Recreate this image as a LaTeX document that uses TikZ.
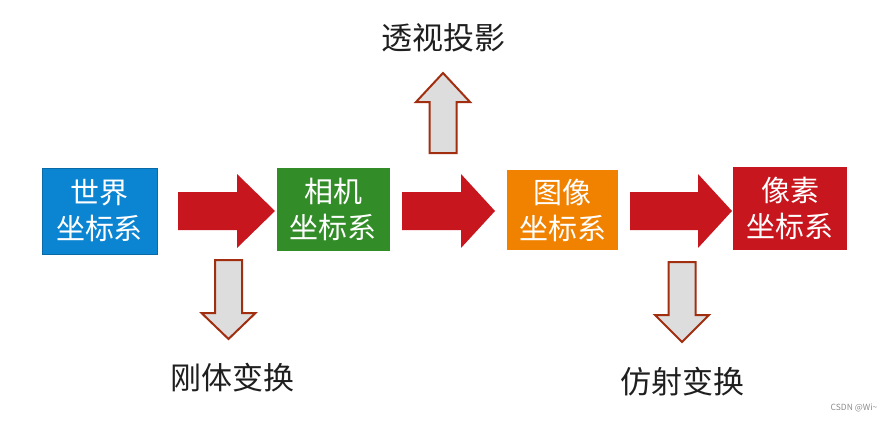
\documentclass[tikz,border=0pt]{standalone}
\usepackage{fontspec}
\setmainfont{Noto Sans CJK SC}
\usetikzlibrary{positioning}

\definecolor{worldblue}{HTML}{0B84D2}
\definecolor{camgreen}{HTML}{328C28}
\definecolor{imgorange}{HTML}{F08200}
\definecolor{pixred}{HTML}{C8161E}
\definecolor{flowred}{HTML}{C8161E}
\definecolor{rimbrown}{HTML}{A22E10}
\definecolor{hollowgray}{HTML}{DDDDDD}

\tikzset{
  frame/.style={inner sep=0pt, minimum width=113pt, minimum height=83pt,
    text=white, align=center, font=\fontsize{29pt}{36pt}\selectfont},
  flow/.style={fill=flowred, draw=none},
  hollow/.style={fill=hollowgray, draw=rimbrown, line width=2pt, line join=miter},
  caption/.style={inner sep=0pt, text=black!88, font=\fontsize{31pt}{36pt}\selectfont}
}

% hollow arrow: centre x, base y, head y, tip y
\newcommand{\hollowarrow}[4]{%
  \draw[hollow] (#1-13.5,#2) -- (#1+13.5,#2) -- (#1+13.5,#3) -- (#1+27,#3)
    -- (#1,#4) -- (#1-27,#3) -- (#1-13.5,#3) -- cycle;}

\begin{document}
\begin{tikzpicture}[x=1pt,y=-1pt]
 \useasboundingbox (0,0) rectangle (892,421);

 % coordinate frames
 \node[frame, fill=worldblue, draw=worldblue!80!black, line width=0.6pt,
   minimum width=115pt, minimum height=86pt] (world) at (99.5,211) {世界\\坐标系};
 \node[frame, fill=camgreen] (camera) at (333,209.5) {相机\\坐标系};
 \node[frame, fill=imgorange, minimum width=111pt, minimum height=80pt] (image) at (562.5,210) {图像\\坐标系};
 \node[frame, fill=pixred, minimum width=114pt] (pixel) at (790,208.5) {像素\\坐标系};

 % red block arrows between the frames
 \foreach \xs/\xh/\xt in {178/237/275, 402/461/495, 630/698/732} {
  \fill[flow] (\xs,192) -- (\xh,192) -- (\xh,174) -- (\xt,211)
    -- (\xh,248) -- (\xh,230) -- (\xs,230) -- cycle;
 }

 % hollow arrows
 \hollowarrow{443}{153}{102}{73}
 \hollowarrow{228.5}{260}{313}{339}
 \hollowarrow{682}{262}{315}{342}

 % transform names
 \node[caption] (persp) at (443,38) {透视投影};
 \node[caption] (rigid) at (232,378) {刚体变换};
 \node[caption] (affine) at (682,382) {仿射变换};

 \node[inner sep=0pt, text=black!45, font=\fontsize{8.5pt}{9pt}\selectfont] (mark) at (854,408) {CSDN @Wi\textasciitilde};
\end{tikzpicture}
\end{document}
